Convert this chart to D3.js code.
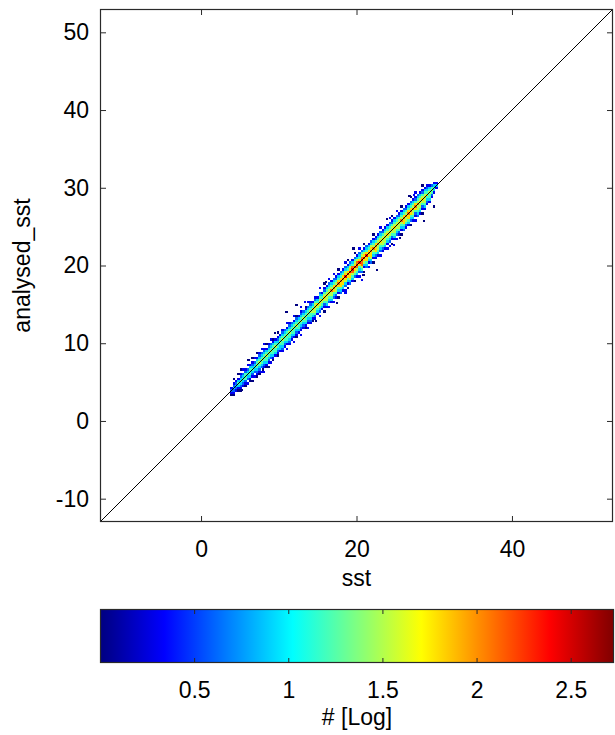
<!DOCTYPE html>
<html>
<head>
<meta charset="utf-8">
<script src="https://cdn.jsdelivr.net/npm/d3@7"></script>
<style>
  html, body { margin: 0; padding: 0; background: #fff; }
  svg { display: block; font-family: "Liberation Sans", Arial, Helvetica, sans-serif; }
</style>
</head>
<body>
<svg id="chart" width="615" height="735"></svg>
<script>
// ---------------- data ----------------
const xLabel = "sst";
const yLabel = "analysed_sst";
const cbLabel = "# [Log]";
const axisDomain = [-13, 53];
const xTicks = [0, 20, 40];
const yTicks = [-10, 0, 10, 20, 30, 40, 50];
const cbDomain = [0, 2.73];
const cbTicks = [0.5, 1, 1.5, 2, 2.5];

// 2D histogram: one row per sst bin (starting at binStart, width binSize).
// Character at index k is the cell at analysed_sst = sst + (k - 8) * binSize;
// digit n means log10(count) = n * levelStep, '.' = empty.
const binStart = 3.9;
const binSize = 0.3;
const levelStep = 0.3;
const densityRows = [
  "......01" + "2" + "1.",
  ".....012" + "3" + "21.0",
  "......12" + "3" + "21",
  ".....013" + "4" + "31.0",
  "....0123" + "4" + "321.0",
  ".....123" + "4" + "32.1",
  "....0124" + "4" + "421",
  "....1.23" + "4" + "32.1",
  "....0134" + "4" + "431",
  "...0.123" + "4" + "321.0",
  "....1.23" + "4" + "32.1",
  "...01234" + "5" + "431.0",
  "...01234" + "5" + "4321",
  "...1.234" + "5" + "432.1",
  "..1.1234" + "5" + "4321.1",
  "...01344" + "5" + "431.0",
  "..0.1234" + "5" + "4321",
  "...1.234" + "5" + "432.1",
  "...01344" + "5" + "4310",
  "....1344" + "5" + "431",
  "...01234" + "4" + "321.0",
  "....1334" + "5" + "431",
  "...12344" + "5" + "4321",
  "....1234" + "5" + "432",
  "..1.1344" + "5" + "431.1",
  "...12344" + "5" + "4321",
  "....1234" + "5" + "432",
  "..1.1344" + "5" + "431.1",
  "...01234" + "5" + "4320",
  "....1344" + "5" + "431",
  "..1.1234" + "5" + "4321.1",
  "....1234" + "5" + "432",
  "...01344" + "5" + "4310",
  "..1.1234" + "5" + "432.1",
  "...12344" + "5" + "4321",
  "...01345" + "6" + "431",
  "...12455" + "6" + "5421",
  "....1345" + "6" + "431",
  "..1.2345" + "6" + "5432.1",
  "....1345" + "6" + "431",
  "..0.1245" + "6" + "5421.0",
  "...13455" + "6" + "5431",
  "..1.2345" + "6" + "5432.1",
  "...13455" + "7" + "5431",
  "..1.2346" + "7" + "6432.1",
  "...12455" + "7" + "5421",
  "..0.1346" + "7" + "6431.0",
  "...23466" + "7" + "6432",
  "...13466" + "7" + "6431",
  "..1.2356" + "8" + "6532.1",
  "..0.1346" + "8" + "6431.0",
  "...23566" + "8" + "6532",
  "...13457" + "8" + "7431",
  "..0.2456" + "8" + "6542.0",
  "...13457" + "8" + "7531",
  "..1.2346" + "8" + "6432.1",
  "...24577" + "8" + "7542",
  "..0.1356" + "8" + "6531.0",
  "...23466" + "8" + "6432",
  "..1.1346" + "7" + "6431",
  "...23566" + "7" + "6532",
  "..0.1345" + "7" + "5431.0",
  "...12466" + "7" + "6421",
  "...13455" + "7" + "5431",
  "..1.2345" + "6" + "5432.1",
  "...12455" + "6" + "5421",
  "...13455" + "6" + "5431",
  "..1.1345" + "6" + "5431",
  "..1.2345" + "6" + "5432.1",
  "..0.1245" + "6" + "5421.0",
  "...13455" + "6" + "5431",
  "..1.2345" + "6" + "5432.1",
  "...12455" + "6" + "5421",
  "..0.1345" + "7" + "5431.0",
  "...23466" + "7" + "6432",
  "...12455" + "7" + "5421",
  "...13466" + "7" + "6431",
  "..0.2346" + "7" + "6432.0",
  "...13455" + "7" + "5431",
  "..1.1246" + "7" + "6421.1",
  "...23455" + "7" + "5432",
  "...13455" + "6" + "5431",
  "..0.1245" + "6" + "5421.0",
  "...13455" + "6" + "5431",
  "....1234" + "6" + "4321",
  "....1344" + "5" + "431",
  ".....124" + "5" + "42",
  "......13" + "4" + "31",
  ".......1" + "3" + "1"
];

// isolated cells away from the main band
const outlierSst = [11.0, 12.3, 13.4, 16.1, 17.5, 18.6, 20.9, 22.6, 19.6, 20.7, 25.6, 27.4, 28.7, 30.0, 8.0, 6.1, 9.5, 14.8, 23.9, 24.8, 5.2, 26.8];
const outlierAna = [14.0, 14.9, 15.3, 17.9, 15.2, 16.5, 18.8, 19.4, 22.2, 18.1, 23.5, 29.1, 25.7, 27.6, 6.6, 7.8, 11.3, 12.9, 26.0, 22.6, 4.0, 28.9];
const outlierLog = [0, 0, 0.3, 0, 0, 0.3, 0, 0, 0, 0.3, 0, 0.3, 0, 0, 0, 0, 0, 0, 0, 0.3, 0, 0];

// ---------------- layout ----------------
const svg = d3.select("#chart");
const plot = { left: 100, top: 9, right: 613, bottom: 522 };
const cb = { left: 100, top: 609, right: 614, bottom: 663 };
const axisColor = "#2a2a2a";
const fontSize = 23;
const centreIndex = 8;

const x = d3.scaleLinear().domain(axisDomain).range([plot.left, plot.right]);
const y = d3.scaleLinear().domain(axisDomain).range([plot.bottom, plot.top]);

function jet(t) {
  t = Math.max(0, Math.min(1, t));
  const c = v => Math.round(255 * Math.max(0, Math.min(1, v)));
  const r = c(1.5 - Math.abs(4 * t - 3));
  const g = c(1.5 - Math.abs(4 * t - 2));
  const b = c(1.5 - Math.abs(4 * t - 1));
  return `rgb(${r},${g},${b})`;
}
const color = v => jet((v - cbDomain[0]) / (cbDomain[1] - cbDomain[0]));

const cells = [];
densityRows.forEach((row, i) => {
  const sst = binStart + i * binSize;
  for (let j = 0; j < row.length; j++) {
    const ch = row[j];
    if (ch >= "0" && ch <= "9") {
      cells.push({ sst, ana: sst + (j - centreIndex) * binSize, v: (+ch) * levelStep });
    }
  }
});
outlierSst.forEach((s, i) => cells.push({ sst: s, ana: outlierAna[i], v: outlierLog[i] }));

const defs = svg.append("defs");
defs.append("clipPath").attr("id", "plotClip")
  .append("rect")
  .attr("x", plot.left).attr("y", plot.top)
  .attr("width", plot.right - plot.left).attr("height", plot.bottom - plot.top);

const g = svg.append("g").attr("clip-path", "url(#plotClip)");
g.selectAll("rect.cell").data(cells).enter().append("rect")
  .attr("class", "cell")
  .attr("x", d => x(d.sst - binSize / 2))
  .attr("y", d => y(d.ana + binSize / 2))
  .attr("width", d => x(d.sst + binSize / 2) - x(d.sst - binSize / 2))
  .attr("height", d => y(d.ana - binSize / 2) - y(d.ana + binSize / 2))
  .attr("fill", d => color(d.v))
  .attr("shape-rendering", "crispEdges");

g.append("line")
  .attr("x1", x(axisDomain[0])).attr("y1", y(axisDomain[0]))
  .attr("x2", x(axisDomain[1])).attr("y2", y(axisDomain[1]))
  .attr("stroke", "#000").attr("stroke-width", 1);

function styleAxis(sel) {
  sel.select(".domain").remove();
  sel.selectAll(".tick line").attr("stroke", axisColor);
  sel.selectAll(".tick text").attr("fill", "#000").attr("font-size", fontSize)
    .attr("font-family", "Liberation Sans, Arial, sans-serif");
}
const fmt = d => String(d);
svg.append("g").attr("transform", `translate(0,${plot.bottom})`)
  .call(d3.axisBottom(x).tickValues(xTicks).tickSize(-6).tickPadding(19).tickFormat(fmt))
  .call(styleAxis);
svg.append("g").attr("transform", `translate(0,${plot.top})`)
  .call(d3.axisTop(x).tickValues(xTicks).tickSize(-6).tickFormat(""))
  .call(styleAxis);
svg.append("g").attr("transform", `translate(${plot.left},0)`)
  .call(d3.axisLeft(y).tickValues(yTicks).tickSize(-6).tickPadding(11).tickFormat(fmt))
  .call(styleAxis);
svg.append("g").attr("transform", `translate(${plot.right},0)`)
  .call(d3.axisRight(y).tickValues(yTicks).tickSize(-6).tickFormat(""))
  .call(styleAxis);

svg.append("rect")
  .attr("x", plot.left + 0.5).attr("y", plot.top + 0.5)
  .attr("width", plot.right - plot.left - 1).attr("height", plot.bottom - plot.top - 1)
  .attr("fill", "none").attr("stroke", axisColor).attr("stroke-width", 1.2);

svg.append("text")
  .attr("x", (plot.left + plot.right) / 2).attr("y", 586)
  .attr("text-anchor", "middle").attr("font-size", fontSize).attr("fill", "#000")
  .text(xLabel);
svg.append("text")
  .attr("transform", `translate(30,${(plot.top + plot.bottom) / 2}) rotate(-90)`)
  .attr("text-anchor", "middle").attr("font-size", fontSize).attr("fill", "#000")
  .text(yLabel);

// colorbar
const cbScale = d3.scaleLinear().domain(cbDomain).range([cb.left, cb.right]);
const grad = defs.append("linearGradient").attr("id", "jetGrad")
  .attr("x1", "0%").attr("x2", "100%").attr("y1", "0%").attr("y2", "0%");
d3.range(0, 1.0001, 1 / 64).forEach(t => {
  grad.append("stop").attr("offset", (t * 100) + "%").attr("stop-color", jet(t));
});
svg.append("rect")
  .attr("x", cb.left).attr("y", cb.top)
  .attr("width", cb.right - cb.left).attr("height", cb.bottom - cb.top)
  .attr("fill", "url(#jetGrad)");
svg.append("g").attr("transform", `translate(0,${cb.bottom})`)
  .call(d3.axisBottom(cbScale).tickValues(cbTicks).tickSize(-5).tickPadding(19).tickFormat(fmt))
  .call(styleAxis);
svg.append("g").attr("transform", `translate(0,${cb.top})`)
  .call(d3.axisTop(cbScale).tickValues(cbTicks).tickSize(-5).tickFormat(""))
  .call(styleAxis);
svg.append("rect")
  .attr("x", cb.left + 0.5).attr("y", cb.top + 0.5)
  .attr("width", cb.right - cb.left - 1).attr("height", cb.bottom - cb.top - 1)
  .attr("fill", "none").attr("stroke", axisColor).attr("stroke-width", 1.2);
svg.append("text")
  .attr("x", (cb.left + cb.right) / 2).attr("y", 725)
  .attr("text-anchor", "middle").attr("font-size", fontSize).attr("fill", "#000")
  .text(cbLabel);
</script>
</body>
</html>
